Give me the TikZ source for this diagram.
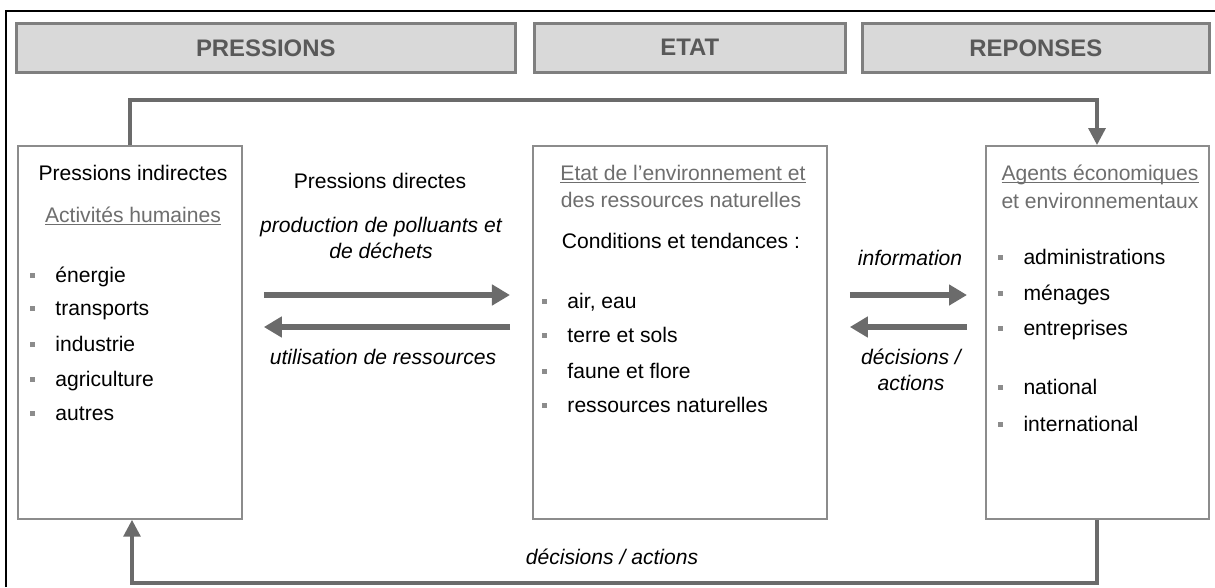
\documentclass[tikz,border=0pt]{standalone}
\usepackage{fontspec}
\setmainfont{Liberation Sans}
\usetikzlibrary{arrows.meta}
\definecolor{headfill}{HTML}{D9D9D9}
\definecolor{headline}{HTML}{7F7F7F}
\definecolor{headtext}{HTML}{595959}
\definecolor{boxline}{HTML}{8C8C8C}
\definecolor{flow}{HTML}{6B6B6B}
\definecolor{subgray}{HTML}{6E6E6E}
\definecolor{bulgray}{HTML}{8C8C8C}
\newcommand{\pix}{0.025cm}
\newcommand{\blt}{\textcolor{bulgray}{\raisebox{0.22em}{\rule{0.13cm}{0.13cm}}}\hspace{0.5cm}}
\newcommand{\uln}[1]{\underline{\smash{#1}}}

\begin{document}
\begin{tikzpicture}[x=\pix, y=-\pix,
    head/.style={draw=headline, fill=headfill, line width=1.8pt, anchor=north west, minimum height=49*\pix, inner sep=0pt, font=\fontsize{17}{20}\selectfont\bfseries, text=headtext},
    rect/.style={draw=boxline, fill=white, line width=1.3pt, anchor=north west, minimum height=373*\pix, inner sep=0pt},
    txt/.style={font=\fontsize{15}{18}\selectfont, inner sep=0pt, text height=11pt, text depth=3pt},
    itm/.style={txt, anchor=west},
    sub/.style={txt, text=subgray},
    lbl/.style={inner sep=0pt, font=\fontsize{15}{18.5}\selectfont\itshape},
    link/.style={draw=flow, line width=2.4pt, -{Triangle[length=0.42cm, width=0.42cm]}},
    flat/.style={draw=flow, line width=4pt, -{Triangle[length=0.45cm, width=0.5cm]}}]
    \useasboundingbox (0,0) rectangle (1215,587);

    % Frame
    \draw[line width=1.8pt] (6,587) -- (6,11) -- (1215,11);

    % Headers
    \node[head, minimum width=499*\pix] (head-1) at (15,22) {PRESSIONS};
    \node[head, minimum width=311*\pix] (head-2) at (533,22) {ETAT};
    \node[head, minimum width=347*\pix] (head-3) at (861,22) {REPONSES};

    % Boxes
    \node[rect, minimum width=224*\pix] (box-1) at (17,145) {};
    \node[rect, minimum width=294*\pix] (box-2) at (532,145) {};
    \node[rect, minimum width=223*\pix] (box-3) at (985,145) {};

    % Left box
    \node[txt] (ind) at (133,175) {Pressions indirectes};
    \node[sub] (act) at (133,217) {\uln{Activités humaines}};
    \node[itm] (act-1) at (30,277) {\blt énergie};
    \node[itm] (act-2) at (30,310) {\blt transports};
    \node[itm] (act-3) at (30,346) {\blt industrie};
    \node[itm] (act-4) at (30,381) {\blt agriculture};
    \node[itm] (act-5) at (30,415) {\blt autres};

    % Middle box
    \node[sub] (etat-1) at (683,175) {\uln{Etat de l'environnement et}};
    \node[sub] (etat-2) at (681,202) {des ressources naturelles};
    \node[txt] (cond) at (681,243) {Conditions et tendances :};
    \node[itm] (cond-1) at (542,303) {\blt air, eau};
    \node[itm] (cond-2) at (542,337) {\blt terre et sols};
    \node[itm] (cond-3) at (542,373) {\blt faune et flore};
    \node[itm] (cond-4) at (542,407) {\blt ressources naturelles};

    % Right box
    \node[sub] (agent-1) at (1100,175) {\uln{Agents économiques}};
    \node[sub] (agent-2) at (1100,203) {et environnementaux};
    \node[itm] (agent-3) at (998,259) {\blt administrations};
    \node[itm] (agent-4) at (998,295) {\blt ménages};
    \node[itm] (agent-5) at (998,330) {\blt entreprises};
    \node[itm] (agent-6) at (998,389) {\blt national};
    \node[itm] (agent-7) at (998,426) {\blt international};

    % Labels
    \node[txt] (dir) at (380,183) {Pressions directes};
    \node[lbl, align=center] (prod) at (381,238) {production de polluants et\\de déchets};
    \node[lbl] (use) at (383,357) {utilisation de ressources};
    \node[lbl] (info) at (910,258) {information};
    \node[lbl, align=center] (dec-1) at (911,370) {décisions /\\actions};
    \node[lbl] (dec-2) at (612,557) {décisions / actions};

    % Arrows between boxes
    \coordinate (row-1) at (0,295);
    \coordinate (row-2) at (0,327);
    \draw[flat, shorten <=0.525cm, shorten >=0.55cm] (box-1.east |- row-1) -- (box-2.west |- row-1);
    \draw[flat, shorten <=0.55cm, shorten >=0.525cm] (box-2.west |- row-2) -- (box-1.east |- row-2);
    \draw[flat, shorten <=0.55cm, shorten >=0.45cm] (box-2.east |- row-1) -- (box-3.west |- row-1);
    \draw[flat, shorten <=0.45cm, shorten >=0.55cm] (box-3.west |- row-2) -- (box-2.east |- row-2);

    % Loops
    \coordinate (top-l) at (130,100);
    \coordinate (top-r) at (1097,100);
    \coordinate (bot-r) at (1097,583);
    \coordinate (bot-l) at (132,583);
    \draw[link] (box-1.north -| top-l) -- (top-l) -- (top-r) -- (box-3.north -| top-r);
    \draw[link] (box-3.south -| bot-r) -- (bot-r) -- (bot-l) -- (box-1.south -| bot-l);

\end{tikzpicture}
\end{document}
